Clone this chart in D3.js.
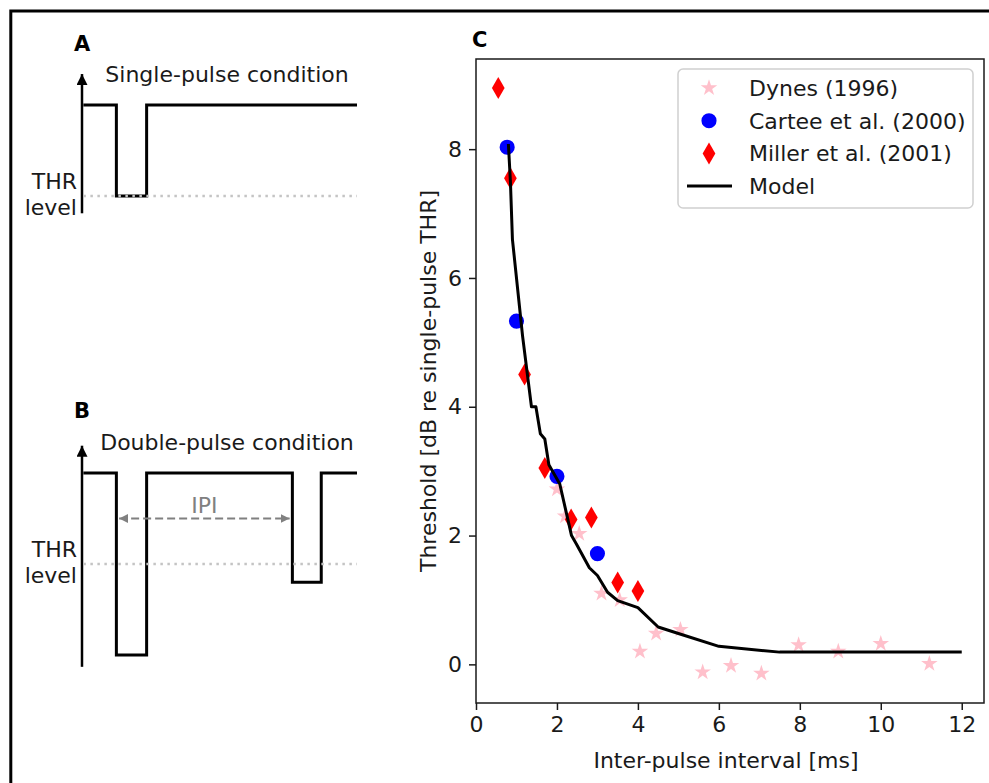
<!DOCTYPE html>
<html>
<head>
<meta charset="utf-8">
<script src="https://cdn.jsdelivr.net/npm/d3@7"></script>
<style>
  body { margin: 0; background: #fff; }
  text { font-family: "DejaVu Sans", sans-serif; }
</style>
</head>
<body>
<div id="figure"></div>
<script>
// ---- data ----
const dynesX = [2.0, 2.2, 2.55, 3.1, 3.55, 4.05, 4.45, 5.05, 5.6, 6.3, 7.05, 7.97, 8.95, 10.0, 11.2];
const dynesY = [2.72, 2.3, 2.03, 1.1, 1.0, 0.2, 0.48, 0.54, -0.12, -0.02, -0.14, 0.3, 0.2, 0.32, 0.01];
const carteeX = [0.77, 1.0, 2.0, 3.0];
const carteeY = [8.03, 5.33, 2.92, 1.72];
const millerX = [0.55, 0.85, 1.2, 1.7, 2.35, 2.85, 3.5, 4.0];
const millerY = [8.95, 7.55, 4.5, 3.05, 2.25, 2.28, 1.27, 1.14];
const modelX = [0.8, 0.85, 0.9, 1.15, 1.37, 1.48, 1.59, 1.7, 1.8, 2.07, 2.36, 2.48, 2.8, 3.0, 3.25, 3.5, 4.0, 4.5, 5.0, 6.0, 7.5, 12];
const modelY = [8.08, 7.5, 6.6, 5.1, 4.0, 4.0, 3.58, 3.5, 3.1, 2.8, 2.0, 1.87, 1.5, 1.38, 1.12, 0.99, 0.88, 0.58, 0.48, 0.28, 0.19, 0.19];
const xTicks = [0, 2, 4, 6, 8, 10, 12];
const yTicks = [0, 2, 4, 6, 8];
const legendLabels = ["Dynes (1996)", "Cartee et al. (2000)", "Miller et al. (2001)", "Model"];

// pulse diagrams: time (arbitrary units) and level (THR = 0, baseline = 1)
const singleT = [0.05, 1.25, 1.25, 2.35, 2.35, 10];
const singleL = [1, 1, 0, 0, 1, 1];
const doubleT = [0.05, 1.25, 1.25, 2.35, 2.35, 7.65, 7.65, 8.7, 8.7, 10];
const doubleL = [1, 1, -1, -1, 1, 1, -0.2, -0.2, 1, 1];

const WIDTH = 989, HEIGHT = 783;
const C_MARGIN = { LEFT: 476, RIGHT: 5, TOP: 59, BOTTOM: 80 };
const C_WIDTH = WIDTH - C_MARGIN.LEFT - C_MARGIN.RIGHT;
const C_HEIGHT = HEIGHT - C_MARGIN.TOP - C_MARGIN.BOTTOM;
const INK = "#1a1a1a";

const svg = d3
  .select("#figure")
  .append("svg")
  .attr("width", WIDTH)
  .attr("height", HEIGHT);

// outer frame
svg.append("rect")
  .attr("x", 10.8).attr("y", 11)
  .attr("width", 1200).attr("height", 1200)
  .attr("fill", "none").attr("stroke", "#000").attr("stroke-width", 3);

const defs = svg.append("defs");
defs.append("marker")
  .attr("id", "arrow-black")
  .attr("viewBox", "0 0 10 10").attr("refX", 10).attr("refY", 5)
  .attr("markerWidth", 11).attr("markerHeight", 11)
  .attr("markerUnits", "userSpaceOnUse")
  .attr("orient", "auto")
  .append("path").attr("d", "M0,0 L10,5 L0,10 Z").attr("fill", "#000");
defs.append("marker")
  .attr("id", "arrow-grey")
  .attr("viewBox", "0 0 10 10").attr("refX", 10).attr("refY", 5)
  .attr("markerWidth", 9).attr("markerHeight", 9)
  .attr("markerUnits", "userSpaceOnUse")
  .attr("orient", "auto-start-reverse")
  .append("path").attr("d", "M0,0 L10,5 L0,10 Z").attr("fill", "#808080");

// ---------- pulse diagrams (A, B) ----------
const t_x = d3.scaleLinear().domain([0, 10]).range([82, 357]);

function drawPulse(cfg) {
  const lv = d3.scaleLinear().domain([0, 1]).range([cfg.thrY, cfg.thrY - 91]);
  const g = svg.append("g");
  const pts = cfg.t.map((t, i) => [t_x(t), lv(cfg.l[i])]);

  g.append("text")
    .attr("x", cfg.letterX).attr("y", cfg.letterY)
    .attr("font-size", "21px").attr("font-weight", "bold")
    .attr("fill", "#000").text(cfg.letter);
  g.append("text")
    .attr("x", 227).attr("y", cfg.titleY)
    .attr("text-anchor", "middle").attr("font-size", "22px")
    .attr("fill", INK).text(cfg.title);

  // vertical amplitude axis with arrow
  g.append("line")
    .attr("x1", t_x(0)).attr("x2", t_x(0))
    .attr("y1", lv(cfg.axisLo)).attr("y2", lv(cfg.axisHi))
    .attr("stroke", "#000").attr("stroke-width", 2.5)
    .attr("marker-end", "url(#arrow-black)");

  g.append("path")
    .attr("d", d3.line()(pts))
    .attr("fill", "none").attr("stroke", "#000")
    .attr("stroke-width", 3).attr("stroke-linejoin", "miter");

  // threshold level, dotted, drawn on top
  g.append("line")
    .attr("x1", t_x(0.05)).attr("x2", t_x(10))
    .attr("y1", lv(0)).attr("y2", lv(0))
    .attr("stroke", "#c4c4c4").attr("stroke-width", 2.5)
    .attr("stroke-dasharray", "2.5,4.5");

  g.append("text")
    .attr("x", 77).attr("y", lv(0) - 7)
    .attr("text-anchor", "end").attr("font-size", "22px")
    .attr("fill", INK).text("THR");
  g.append("text")
    .attr("x", 77).attr("y", lv(0) + 19)
    .attr("text-anchor", "end").attr("font-size", "22px")
    .attr("fill", INK).text("level");
  return lv;
}

drawPulse({
  t: singleT, l: singleL, thrY: 196, axisLo: -0.19, axisHi: 1.34,
  letter: "A", letterX: 74, letterY: 51, title: "Single-pulse condition", titleY: 82
});
const lvB = drawPulse({
  t: doubleT, l: doubleL, thrY: 564, axisLo: -1.13, axisHi: 1.3,
  letter: "B", letterX: 74, letterY: 418, title: "Double-pulse condition", titleY: 450
});

// inter-pulse interval arrow
svg.append("line")
  .attr("x1", t_x(1.35)).attr("x2", t_x(7.55))
  .attr("y1", lvB(0.5)).attr("y2", lvB(0.5))
  .attr("stroke", "#808080").attr("stroke-width", 2)
  .attr("stroke-dasharray", "8,4")
  .attr("marker-start", "url(#arrow-grey)")
  .attr("marker-end", "url(#arrow-grey)");
svg.append("text")
  .attr("x", t_x((1.25 + 7.65) / 2)).attr("y", lvB(0.5) - 6)
  .attr("text-anchor", "middle").attr("font-size", "22px")
  .attr("fill", "#808080").text("IPI");

// ---------- panel C ----------
svg.append("text")
  .attr("x", 472).attr("y", 47)
  .attr("font-size", "21px").attr("font-weight", "bold")
  .attr("fill", "#000").text("C");

const c_g = svg.append("g")
  .attr("transform", `translate(${C_MARGIN.LEFT}, ${C_MARGIN.TOP})`);

const c_x = d3.scaleLinear().domain([0, 12.55]).range([0, C_WIDTH]);
const c_y = d3.scaleLinear().domain([-0.6, 9.4]).range([C_HEIGHT, 0]);

const c_xAxis = c_g.append("g")
  .attr("transform", `translate(0, ${C_HEIGHT})`)
  .call(d3.axisBottom(c_x).tickValues(xTicks).tickSizeInner(7).tickSizeOuter(0).tickPadding(6));
const c_yAxis = c_g.append("g")
  .call(d3.axisLeft(c_y).tickValues(yTicks).tickSizeInner(7).tickSizeOuter(0).tickPadding(7));
[c_xAxis, c_yAxis].forEach((a) => {
  a.select(".domain").remove();
  a.selectAll("line").attr("stroke", INK).attr("stroke-width", 1.5);
  a.selectAll("text").attr("font-size", "22px").attr("fill", INK)
    .style("font-family", "DejaVu Sans, sans-serif");
});

// frame
c_g.append("rect")
  .attr("width", C_WIDTH).attr("height", C_HEIGHT)
  .attr("fill", "none").attr("stroke", INK).attr("stroke-width", 1.5);

c_g.append("text")
  .attr("x", C_WIDTH / 2 - 4).attr("y", C_HEIGHT + 65)
  .attr("text-anchor", "middle").attr("font-size", "22px")
  .attr("fill", INK).text("Inter-pulse interval [ms]");
c_g.append("text")
  .attr("transform", "rotate(-90)")
  .attr("x", -C_HEIGHT / 2).attr("y", -40)
  .attr("text-anchor", "middle").attr("font-size", "22px")
  .attr("fill", INK).text("Threshold [dB re single-pulse THR]");

const plot = c_g.append("g");
const starSym = d3.symbol().type(d3.symbolStar).size(85);
const circSym = d3.symbol().type(d3.symbolCircle).size(180);
const diamSym = d3.symbol().type(d3.symbolDiamond).size(140);

plot.selectAll(".dynes").data(dynesX).enter().append("path")
  .attr("class", "dynes")
  .attr("transform", (d, i) => `translate(${c_x(d)}, ${c_y(dynesY[i])})`)
  .attr("d", starSym).attr("fill", "#ffc0cb");
plot.selectAll(".cartee").data(carteeX).enter().append("path")
  .attr("class", "cartee")
  .attr("transform", (d, i) => `translate(${c_x(d)}, ${c_y(carteeY[i])})`)
  .attr("d", circSym).attr("fill", "#0000ff");
plot.selectAll(".miller").data(millerX).enter().append("path")
  .attr("class", "miller")
  .attr("transform", (d, i) => `translate(${c_x(d)}, ${c_y(millerY[i])})`)
  .attr("d", diamSym).attr("fill", "#ff0000");

const modelLine = d3.line()
  .x((d) => c_x(d))
  .y((d, i) => c_y(modelY[i]));
plot.append("path")
  .attr("d", modelLine(modelX))
  .attr("fill", "none").attr("stroke", "#000")
  .attr("stroke-width", 3).attr("stroke-linejoin", "round");

// legend
const LEG = { X: 202, Y: 10, W: 295, H: 139, ROW: 32.7 };
const leg = c_g.append("g").attr("transform", `translate(${LEG.X}, ${LEG.Y})`);
leg.append("rect")
  .attr("width", LEG.W).attr("height", LEG.H).attr("rx", 5)
  .attr("fill", "#fff").attr("fill-opacity", 0.8)
  .attr("stroke", "#d0d0d0").attr("stroke-width", 1.5);
const legSyms = [starSym, circSym, diamSym, null];
const legFills = ["#ffc0cb", "#0000ff", "#ff0000", null];
legendLabels.forEach((lab, i) => {
  const cy = 19 + i * LEG.ROW;
  if (legSyms[i]) {
    leg.append("path")
      .attr("transform", `translate(31, ${cy})`)
      .attr("d", legSyms[i]).attr("fill", legFills[i]);
  } else {
    leg.append("line")
      .attr("x1", 9).attr("x2", 54).attr("y1", cy).attr("y2", cy)
      .attr("stroke", "#000").attr("stroke-width", 3);
  }
  leg.append("text")
    .attr("x", 71).attr("y", cy).attr("dy", "0.36em")
    .attr("font-size", "22px").attr("fill", INK).text(lab);
});
</script>
</body>
</html>
